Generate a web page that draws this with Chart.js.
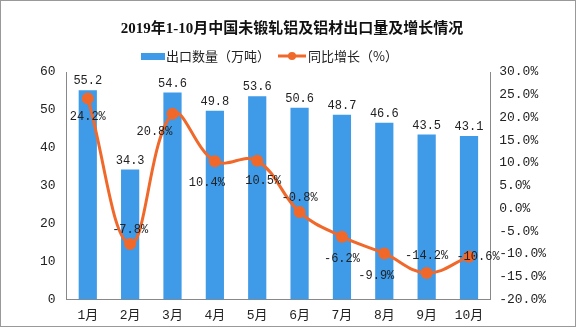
<!DOCTYPE html>
<html>
<head>
<meta charset="utf-8">
<script src="https://cdn.jsdelivr.net/npm/chart.js@4.4.0/dist/chart.umd.min.js"></script>
<style>
  html, body { margin: 0; padding: 0; background: #fff; }
  #wrap { width: 574px; height: 325px; border: 1px solid #999; position: relative; }
</style>
</head>
<body>
<div id="wrap"><canvas id="myChart" width="574" height="325"></canvas></div>
<script>
// data
var months = ['1月', '2月', '3月', '4月', '5月', '6月', '7月', '8月', '9月', '10月'];
var exportVolume = [55.2, 34.3, 54.6, 49.8, 53.6, 50.6, 48.7, 46.6, 43.5, 43.1];
var growthRate = [24.2, -7.8, 20.8, 10.4, 10.5, -0.8, -6.2, -9.9, -14.2, -10.6];
var leftTicks = [0, 10, 20, 30, 40, 50, 60];
var rightTicks = [-20, -15, -10, -5, 0, 5, 10, 15, 20, 25, 30];

var barColor = '#3f9ae8';
var lineColor = '#f0682a';
var numFont = '"Liberation Mono", "DejaVu Sans Mono", "Noto Sans CJK SC", monospace';

// where each growth label sits relative to its point
var lineLabelOffset = [[0, 18], [0, -14], [-18, 18], [-8, 22], [6, 20], [0, -14], [0, 22], [-8, 22], [0, -17], [9, 0]];

var labelPlugin = {
    id: 'labels',
    afterDatasetsDraw: function (chart) {
        var ctx = chart.ctx;
        ctx.save();
        ctx.font = '12px ' + numFont;
        ctx.fillStyle = '#222';
        ctx.textAlign = 'center';
        ctx.textBaseline = 'bottom';
        chart.getDatasetMeta(1).data.forEach(function (bar, i) {
            ctx.fillText(exportVolume[i].toFixed(1), bar.x, bar.y - 3);
        });
        ctx.textBaseline = 'middle';
        chart.getDatasetMeta(0).data.forEach(function (pt, i) {
            var off = lineLabelOffset[i];
            ctx.fillText(growthRate[i].toFixed(1) + '%', pt.x + off[0], pt.y + off[1]);
        });
        ctx.restore();
    },
    afterDraw: function (chart) {
        // legend
        var ctx = chart.ctx;
        ctx.save();
        var y = 55;
        ctx.fillStyle = barColor;
        ctx.fillRect(140, y - 3, 24, 7);
        ctx.font = '13px "Noto Sans CJK SC", sans-serif';
        ctx.fillStyle = '#222';
        ctx.textBaseline = 'middle';
        ctx.fillText('出口数量（万吨）', 165, y);
        ctx.strokeStyle = lineColor;
        ctx.lineWidth = 3;
        ctx.beginPath();
        ctx.moveTo(277, y);
        ctx.lineTo(305, y);
        ctx.stroke();
        ctx.fillStyle = lineColor;
        ctx.beginPath();
        ctx.arc(291, y, 4, 0, Math.PI * 2);
        ctx.fill();
        ctx.fillStyle = '#222';
        ctx.fillText('同比增长（%）', 307, y);
        ctx.restore();
    }
};

var ctx = document.getElementById('myChart').getContext('2d');

var myChart = new Chart(ctx, {
    data: {
        labels: months,
        datasets: [{
            type: 'line',
            label: '同比增长（%）',
            data: growthRate,
            yAxisID: 'y1',
            borderColor: lineColor,
            backgroundColor: lineColor,
            borderWidth: 3,
            pointRadius: 4.5,
            pointHoverRadius: 4.5,
            tension: 0.4,
            order: 0
        }, {
            type: 'bar',
            label: '出口数量（万吨）',
            data: exportVolume,
            yAxisID: 'y',
            backgroundColor: barColor,
            barPercentage: 0.43,
            categoryPercentage: 1,
            order: 1
        }]
    },
    options: {
        responsive: false,
        animation: false,
        layout: {
            padding: { top: 17, left: 33, right: 25, bottom: 0 }
        },
        scales: {
            x: {
                grid: { display: false, drawTicks: true, tickLength: 5 },
                border: { color: '#888' },
                ticks: { color: '#222', font: { size: 13, family: numFont }, padding: 3 }
            },
            y: {
                position: 'left',
                min: 0,
                max: 60,
                afterBuildTicks: function (axis) { axis.ticks = leftTicks.map(function (v) { return { value: v }; }); },
                grid: { display: false, drawTicks: true, tickLength: 5 },
                border: { color: '#888' },
                ticks: { color: '#222', font: { size: 13, family: numFont }, padding: 6 }
            },
            y1: {
                position: 'right',
                min: -20,
                max: 30,
                afterBuildTicks: function (axis) { axis.ticks = rightTicks.map(function (v) { return { value: v }; }); },
                grid: { display: false, drawTicks: true, tickLength: 5 },
                border: { color: '#888' },
                ticks: {
                    color: '#222',
                    font: { size: 13, family: numFont },
                    padding: 4,
                    callback: function (v) { return v.toFixed(1) + '%'; }
                }
            }
        },
        plugins: {
            legend: { display: false },
            tooltip: { enabled: false },
            title: {
                display: true,
                text: '2019年1-10月中国未锻轧铝及铝材出口量及增长情况',
                color: '#111',
                font: { size: 15, weight: 'bold', family: '"Liberation Serif", "Noto Sans CJK SC", serif' },
                padding: { top: 2, bottom: 34 }
            }
        }
    },
    plugins: [labelPlugin]
});
</script>
</body>
</html>
